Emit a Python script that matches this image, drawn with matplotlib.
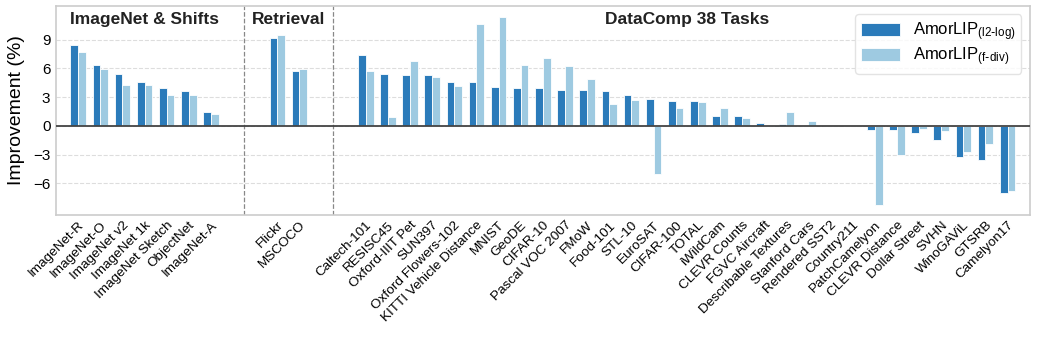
import matplotlib
matplotlib.use("Agg")
import matplotlib.pyplot as plt
import numpy as np

plt.rcParams['font.family'] = ['Liberation Sans', 'DejaVu Sans']
plt.rcParams['mathtext.default'] = 'regular'

# groups of tasks
imagenet_tasks = ["ImageNet-R", "ImageNet-O", "ImageNet v2", "ImageNet 1k",
                  "ImageNet Sketch", "ObjectNet", "ImageNet-A"]
imagenet_l2log = [8.46, 6.34, 5.43, 4.60, 3.94, 3.59, 1.43]
imagenet_fdiv = [7.70, 5.92, 4.28, 4.25, 3.20, 3.27, 1.25]

retrieval_tasks = ["Flickr", "MSCOCO"]
retrieval_l2log = [9.16, 5.71]
retrieval_fdiv = [9.47, 5.92]

datacomp_tasks = ["Caltech-101", "RESISC45", "Oxford-IIIT Pet", "SUN397",
                  "Oxford Flowers-102", "KITTI Vehicle Distance", "MNIST", "GeoDE",
                  "CIFAR-10", "Pascal VOC 2007", "FMoW", "Food-101", "STL-10",
                  "EuroSAT", "CIFAR-100", "TOTAL", "iWildCam", "CLEVR Counts",
                  "FGVC Aircraft", "Describable Textures", "Stanford Cars",
                  "Rendered SST2", "Country211", "PatchCamelyon", "CLEVR Distance",
                  "Dollar Street", "SVHN", "WinoGAViL", "GTSRB", "Camelyon17"]
datacomp_l2log = [7.42, 5.40, 5.30, 5.26, 4.60, 4.56, 4.04, 4.00, 3.97, 3.73,
                  3.69, 3.62, 3.20, 2.82, 2.61, 2.58, 1.08, 1.01, 0.31, 0.24,
                  0.0, 0.0, 0.0, -0.42, -0.45, -0.77, -1.50, -3.24, -3.52, -7.00]
datacomp_fdiv = [5.71, 0.91, 6.79, 5.05, 4.11, 10.60, 11.39, 6.37, 7.07, 6.24,
                 4.88, 2.33, 2.72, -4.98, 1.91, 2.50, 1.88, 0.87, 0.0, 1.43,
                 0.49, 0.0, 0.0, -8.29, -3.00, -0.28, -0.56, -2.72, -1.92, -6.83]

group_titles = ["ImageNet & Shifts", "Retrieval", "DataComp 38 Tasks"]
gap = 2

dark = '#2b7bba'
light = '#9ecae1'

# x positions with gaps between groups
x_in = np.arange(len(imagenet_tasks))
x_re = x_in[-1] + 1 + gap + np.arange(len(retrieval_tasks))
x_dc = x_re[-1] + 1 + gap + np.arange(len(datacomp_tasks))

xs = np.concatenate([x_in, x_re, x_dc])
labels = imagenet_tasks + retrieval_tasks + datacomp_tasks
v1 = imagenet_l2log + retrieval_l2log + datacomp_l2log
v2 = imagenet_fdiv + retrieval_fdiv + datacomp_fdiv

fig = plt.figure(figsize=(10.37, 3.38), dpi=100)
ax = fig.add_axes([0.054, 0.364, 0.939, 0.618])

w = 0.35
ax.bar(xs - w / 2, v1, w, color=dark, edgecolor='white', linewidth=0.6,
       label='AmorLIP$_{(l2\\text{-}log)}$', zorder=3)
ax.bar(xs + w / 2, v2, w, color=light, edgecolor='white', linewidth=0.6,
       label='AmorLIP$_{(f\\text{-}div)}$', zorder=3)

ax.axhline(0, color='#444444', lw=1.3, zorder=4)

# group separators
for xv in [x_in[-1] + (gap + 1) / 2, x_re[-1] + (gap + 1) / 2]:
    ax.axvline(xv, color='#888888', ls='--', lw=0.9, zorder=2)

for title, grp in zip(group_titles, [x_in, x_re, x_dc]):
    ax.text((grp[0] + grp[-1]) / 2, 11.1, title, ha='center', va='center',
            fontsize=12.5, fontweight='bold', color='#222222')

ax.set_xlim(-1, xs[-1] + 1)
ax.set_ylim(-9.3, 12.5)
ax.set_yticks([-6, -3, 0, 3, 6, 9])
ax.set_yticklabels(['\u22126', '\u22123', '0', '3', '6', '9'])
ax.set_xticks(xs)
ax.set_xticklabels(labels, rotation=45, ha='right', rotation_mode='anchor',
                   fontsize=9.7)
ax.tick_params(axis='y', labelsize=11, length=0, pad=4)
ax.tick_params(axis='x', length=0, pad=3)
ax.set_ylabel('Improvement (%)', fontsize=14, labelpad=6)

ax.yaxis.grid(True, ls='--', color='#dddddd', lw=0.8, zorder=0)
ax.xaxis.grid(False)
for s in ax.spines.values():
    s.set_color('#cccccc')
    s.set_linewidth(1.2)

ax.legend(loc='upper right', fontsize=12, frameon=True, edgecolor='#dddddd',
          handlelength=2.3, handleheight=0.8, borderpad=0.35,
          labelspacing=0.15, handletextpad=0.8)

fig.savefig('out.png', dpi=100)
